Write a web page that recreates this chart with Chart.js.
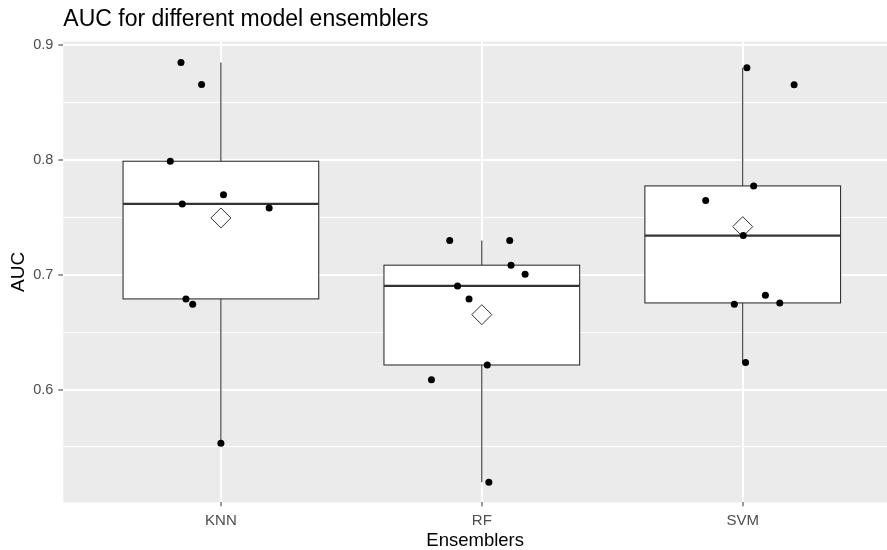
<!DOCTYPE html>
<html>
<head>
<meta charset="utf-8">
<script src="https://cdn.jsdelivr.net/npm/chart.js@4"></script>
<style>
    html, body { margin: 0; padding: 0; background: #ffffff; overflow: hidden; }
    #wrap { width: 887px; height: 550px; position: relative; }
    #aucChart { display: block; }
</style>
</head>
<body>
<div id="wrap"><canvas id="aucChart"></canvas></div>
<script>
const categories = ['KNN', 'RF', 'SVM'];

// AUC per fold, with the jittered x positions
const knnAuc = [0.885, 0.8658, 0.799, 0.7697, 0.7618, 0.7583, 0.679, 0.6744, 0.5532];
const knnX   = [0.847, 0.926, 0.806, 1.010, 0.852, 1.185, 0.866, 0.892, 1.000];
const rfAuc  = [0.730, 0.730, 0.7084, 0.7005, 0.6903, 0.679, 0.6214, 0.6086, 0.5192];
const rfX    = [1.877, 2.107, 2.112, 2.166, 1.907, 1.951, 2.021, 1.807, 2.027];
const svmAuc = [0.8804, 0.8656, 0.7775, 0.7647, 0.7342, 0.6822, 0.6755, 0.6744, 0.6235];
const svmX   = [3.016, 3.197, 3.042, 2.858, 3.002, 3.087, 3.142, 2.968, 3.011];

const yTicks = [0.55, 0.6, 0.65, 0.7, 0.75, 0.8, 0.85, 0.9];
const xTicks = [1, 2, 3];

const groups = [knnAuc, rfAuc, svmAuc];
const groupX = [knnX, rfX, svmX];

const FONT = "'Liberation Sans', Arial, sans-serif";

function quantile(sorted, p) {
    const pos = (sorted.length - 1) * p;
    const lo = Math.floor(pos);
    const hi = Math.ceil(pos);
    return sorted[lo] + (sorted[hi] - sorted[lo]) * (pos - lo);
}

// boxplot stats the way ggplot does them
const boxStats = groups.map(vals => {
    const s = vals.slice().sort((a, b) => a - b);
    const q1 = quantile(s, 0.25);
    const med = quantile(s, 0.5);
    const q3 = quantile(s, 0.75);
    const iqr = q3 - q1;
    const lo = Math.min(...s.filter(v => v >= q1 - 1.5 * iqr));
    const hi = Math.max(...s.filter(v => v <= q3 + 1.5 * iqr));
    const mean = s.reduce((a, b) => a + b, 0) / s.length;
    return { q1, med, q3, lo, hi, mean };
});

const isMajor = v => Math.abs(v * 10 - Math.round(v * 10)) < 1e-6;

const panelBg = {
    id: 'panelBg',
    beforeDraw(chart) {
        const { ctx, chartArea: a } = chart;
        ctx.save();
        ctx.fillStyle = '#EBEBEB';
        ctx.fillRect(a.left, a.top, a.right - a.left, a.bottom - a.top);
        ctx.restore();
    },
    afterLayout(chart) {
        // title starts at the panel edge like ggplot
        if (chart.titleBlock) chart.titleBlock.left = chart.chartArea.left;
    }
};

const boxplots = {
    id: 'boxplots',
    beforeDatasetsDraw(chart) {
        const { ctx } = chart;
        const xs = chart.scales.x;
        const ys = chart.scales.y;
        ctx.save();
        ctx.strokeStyle = '#333333';
        boxStats.forEach((b, i) => {
            const cx = xs.getPixelForValue(i + 1);
            const left = xs.getPixelForValue(i + 1 - 0.375);
            const right = xs.getPixelForValue(i + 1 + 0.375);
            const yq1 = ys.getPixelForValue(b.q1);
            const yq3 = ys.getPixelForValue(b.q3);

            ctx.lineWidth = 1.1;
            ctx.beginPath();
            ctx.moveTo(cx, ys.getPixelForValue(b.hi));
            ctx.lineTo(cx, yq3);
            ctx.moveTo(cx, yq1);
            ctx.lineTo(cx, ys.getPixelForValue(b.lo));
            ctx.stroke();

            ctx.fillStyle = '#ffffff';
            ctx.fillRect(left, yq3, right - left, yq1 - yq3);
            ctx.strokeRect(left, yq3, right - left, yq1 - yq3);

            ctx.lineWidth = 2.2;
            ctx.beginPath();
            const ym = ys.getPixelForValue(b.med);
            ctx.moveTo(left, ym);
            ctx.lineTo(right, ym);
            ctx.stroke();
        });
        ctx.restore();
    }
};

const pointData = [];
groups.forEach((vals, g) => {
    vals.forEach((v, k) => pointData.push({ x: groupX[g][k], y: v }));
});
const meanData = boxStats.map((b, i) => ({ x: xTicks[i], y: b.mean }));

new Chart(document.getElementById('aucChart'), {
    type: 'scatter',
    data: {
        datasets: [
            {
                label: 'AUC',
                data: pointData,
                pointRadius: 3.5,
                pointBackgroundColor: '#000000',
                pointBorderWidth: 0,
                order: 0
            },
            {
                label: 'Mean',
                data: meanData,
                pointStyle: 'rectRot',
                pointRadius: 10,
                pointBackgroundColor: '#ffffff',
                pointBorderColor: '#333333',
                pointBorderWidth: 1,
                order: 1
            }
        ]
    },
    options: {
        responsive: true,
        maintainAspectRatio: false,
        animation: false,
        layout: { padding: 0, autoPadding: false },
        plugins: {
            legend: { display: false },
            tooltip: { enabled: false },
            title: {
                display: true,
                text: 'AUC for different model ensemblers',
                align: 'start',
                color: '#000000',
                font: { family: FONT, size: 23, weight: 'normal', lineHeight: 1.2 },
                padding: { top: 6, bottom: 8 }
            }
        },
        scales: {
            x: {
                type: 'linear',
                min: 0.396,
                max: 3.553,
                afterBuildTicks: s => { s.ticks = xTicks.map(v => ({ value: v })); },
                afterFit: s => { s.height = 47.7; s.paddingLeft = 0; s.paddingRight = 0; },
                ticks: {
                    color: '#4D4D4D',
                    padding: 6,
                    font: { family: FONT, size: 15 },
                    callback: v => categories[v - 1]
                },
                grid: {
                    color: '#ffffff',
                    lineWidth: 2,
                    tickLength: 4,
                    tickColor: '#333333',
                    tickWidth: 1
                },
                border: { display: false },
                title: {
                    display: true,
                    text: 'Ensemblers',
                    color: '#000000',
                    font: { family: FONT, size: 18.5, lineHeight: 1.0 },
                    padding: { top: 0, bottom: 0 }
                }
            },
            y: {
                type: 'linear',
                min: 0.5017,
                max: 0.9033,
                afterBuildTicks: s => { s.ticks = yTicks.map(v => ({ value: v })); },
                afterFit: s => { s.width = 63.3; },
                ticks: {
                    color: '#4D4D4D',
                    padding: 5,
                    font: { family: FONT, size: 14.5 },
                    callback: v => isMajor(v) ? v.toFixed(1) : ''
                },
                grid: {
                    color: '#ffffff',
                    lineWidth: c => isMajor(c.tick.value) ? 2 : 1,
                    tickLength: 5,
                    tickColor: c => isMajor(c.tick.value) ? '#333333' : 'rgba(0,0,0,0)',
                    tickWidth: 1
                },
                border: { display: false },
                title: {
                    display: true,
                    text: 'AUC',
                    color: '#000000',
                    font: { family: FONT, size: 19, lineHeight: 1.1 },
                    padding: { top: 8, bottom: 0 }
                }
            }
        }
    },
    plugins: [panelBg, boxplots]
});
</script>
</body>
</html>
